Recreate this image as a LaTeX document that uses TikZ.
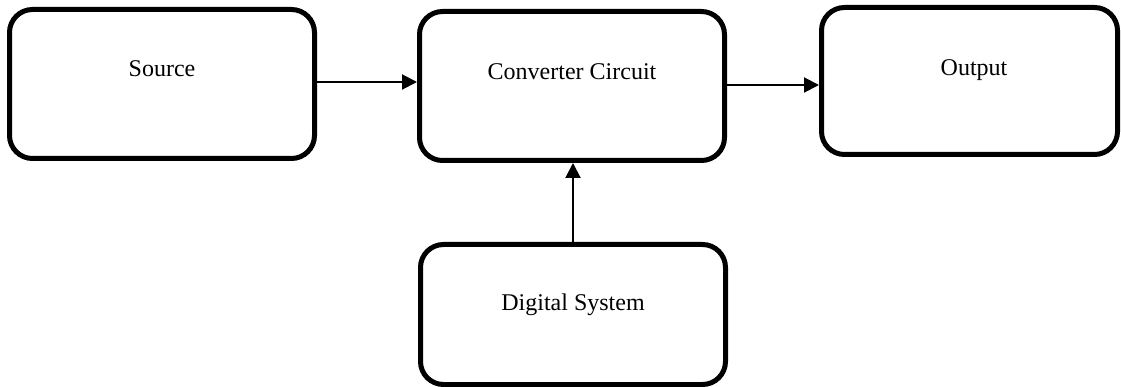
\documentclass[tikz,border=0pt]{standalone}
\usepackage{fontspec}
\setmainfont{Liberation Serif}
\usetikzlibrary{arrows.meta}
\begin{document}
\begin{tikzpicture}[x=1pt,y=-1pt,
  blockbox/.style={draw=black,line width=5pt,rounded corners=23pt,rectangle,inner sep=0pt},
  lbl/.style={anchor=base,font=\fontsize{24}{28}\selectfont,inner sep=0pt},
  arr/.style={line width=2pt,-{Triangle[length=15pt,width=15pt]}}]
\useasboundingbox (0,0) rectangle (1121,387);
\node[blockbox,minimum width=305pt,minimum height=149pt] (source) at (162,84) {};
\node[blockbox,minimum width=305pt,minimum height=149pt] (conv) at (572,86) {};
\node[blockbox,minimum width=296pt,minimum height=147pt] (out) at (969.5,81) {};
\node[blockbox,minimum width=305pt,minimum height=140pt] (dig) at (573,314.5) {};
\node[lbl] (tsource) at (162,77) {Source};
\node[lbl] (tconv) at (572,80) {Converter Circuit};
\node[lbl] (tout) at (974,76) {Output};
\node[lbl] (tdig) at (573,310) {Digital System};
\draw[arr] ([yshift=2pt]source.east) -- ([yshift=2pt]source.east -| conv.west);
\draw[arr] ([yshift=1pt]conv.east) -- ([yshift=1pt]conv.east -| out.west);
\draw[arr] (dig.north) -- (dig.north |- conv.south);
\end{tikzpicture}
\end{document}
